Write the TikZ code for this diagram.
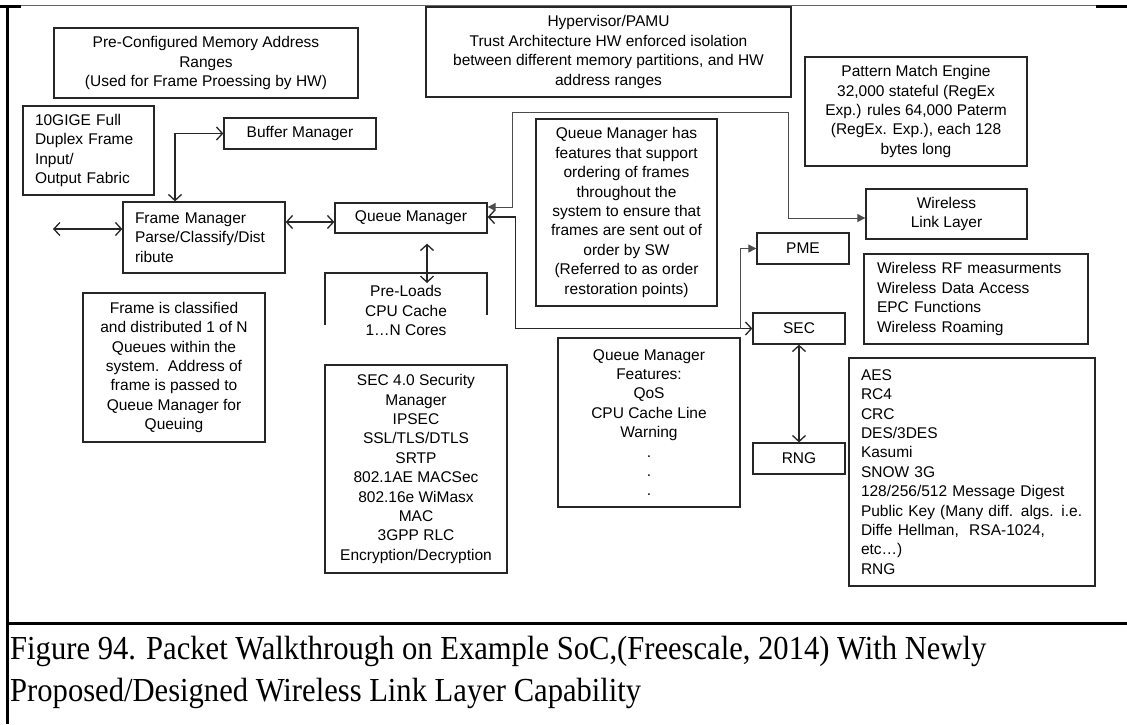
\documentclass[tikz,border=0pt]{standalone}
\usepackage{fontspec}
\setmainfont{Liberation Sans}
\newfontfamily\capfont{Liberation Serif}
\usetikzlibrary{arrows.meta}
\begin{document}
\begin{tikzpicture}[x=1pt,y=-1pt,
  box/.style={draw=black!85, line width=1.3pt, inner sep=0pt, text=black,
    font=\fontsize{15.5}{19.4}\selectfont, align=center},
  lbox/.style={box, align=left},
  link/.style={draw=black!85, line width=1.3pt},
  dbl/.style={link, {Straight Barb[length=6pt,width=13pt]}-{Straight Barb[length=6pt,width=13pt]}},
  solid tips/.style={draw=black!70, line width=0.9pt,
    {Triangle[length=8pt,width=8pt]}-{Triangle[length=8pt,width=8pt]}},
  solid tip/.style={draw=black!70, line width=0.9pt, -{Triangle[length=8pt,width=8pt]}},
]
\useasboundingbox (0,0) rectangle (1127,724);

% page frame
\draw[black!60, line width=0.8pt] (21,5) -- (1096,5);
\draw[black, line width=3pt] (0,6) -- (21,6);
\draw[black, line width=3pt] (1096,6) -- (1127,6);
\draw[black, line width=3pt] (7.5,5) -- (7.5,724);
\draw[black, line width=3pt] (7.5,623) -- (1127,623);

% blocks
\node[box, minimum width=304, minimum height=70] (precfg) at (206,63)
  {Pre-Configured Memory Address\\Ranges\\(Used for Frame Proessing by HW)};
\node[lbox, minimum width=131, minimum height=89, text width=107, inner xsep=12] (gige) at (88.5,150.5)
  {10GIGE Full\\Duplex Frame\\Input/\\Output Fabric};
\node[box, minimum width=152, minimum height=31] (buffer) at (300,133.5) {Buffer Manager};
\node[box, minimum width=365, minimum height=90] (hyper) at (608.5,52)
  {Hypervisor/PAMU\\Trust Architecture HW enforced isolation\\between different memory partitions, and HW\\address ranges};
\node[box, minimum width=222, minimum height=109] (pattern) at (916,111.5)
  {Pattern Match Engine\\32,000 stateful (RegEx\\Exp.) rules 64,000 Paterm\\(RegEx. Exp.), each 128\\bytes long};
\node[lbox, minimum width=162, minimum height=71, text width=138, inner xsep=12] (fm) at (204,237.5)
  {Frame Manager\\Parse/Classify/Dist\\ribute};
\node[box, minimum width=152, minimum height=30] (qm) at (411,218) {Queue Manager};
\node[box, minimum width=181, minimum height=187] (qmhas) at (626.5,212.5)
  {Queue Manager has\\features that support\\ordering of frames\\throughout the\\system to ensure that\\frames are sent out of\\order by SW\\(Referred to as order\\restoration points)};
\node[box, minimum width=161, minimum height=50] (wll) at (946.5,214) {Wireless\\Link Layer};
\node[box, minimum width=92, minimum height=31] (pme) at (803,248.5) {PME};
\node[lbox, minimum width=224, minimum height=90, text width=198, inner xsep=13] (wrf) at (976,299)
  {Wireless RF measurments\\Wireless Data Access\\EPC Functions\\Wireless Roaming};
\node[box, minimum width=92, minimum height=31] (sec) at (799,328.5) {SEC};
\node[box, minimum width=92, minimum height=31] (rng) at (799,458.5) {RNG};
\node[lbox, minimum width=246, minimum height=228, text width=222, inner xsep=12] (algs) at (972,472)
  {AES\\RC4\\CRC\\DES/3DES\\Kasumi\\SNOW 3G\\128/256/512 Message Digest\\Public Key (Many diff. algs. i.e.\\Diffe Hellman,\ \ RSA-1024,\\etc\dots)\\RNG};
\node[box, minimum width=182, minimum height=149] (frameis) at (174,367.5)
  {Frame is classified\\and distributed 1 of N\\Queues within the\\system.\ \ Address of\\frame is passed to\\Queue Manager for\\Queuing};
\node[box, minimum width=182, minimum height=208] (sec40) at (416,469)
  {SEC 4.0 Security\\Manager\\IPSEC\\SSL/TLS/DTLS\\SRTP\\802.1AE MACSec\\802.16e WiMasx\\MAC\\3GPP RLC\\Encryption/Decryption};
\node[box, minimum width=182, minimum height=169] (qmf) at (649,422.5)
  {Queue Manager\\Features:\\QoS\\CPU Cache Line\\Warning\\.\\.\\.};

% pre-loads block, open at the bottom
\coordinate (plnw) at (325,273);
\coordinate (plne) at (487,273);
\draw[link] ([yshift=-52pt]plnw) -- (plnw) -- (plne) -- ([yshift=-42pt]plne);
\node[box, draw=none, minimum width=150] (preloads) at (406,310.5)
  {Pre-Loads\\CPU Cache\\1\dots N Cores};

% connectors
\coordinate (inport) at (53,229);
\draw[dbl] (inport) -- (inport -| fm.west);
\draw[dbl] ([xshift=-29pt]fm.north) |- (buffer.west);
\draw[dbl] ([yshift=-4pt]qm.west -| fm.east) -- ([yshift=-4pt]qm.west);
\draw[dbl] ([xshift=16pt,yshift=-10pt]qm.south) -- ([xshift=16pt,yshift=-10pt]qm.south |- plnw);
\draw[solid tips] ([yshift=11pt]qm.east) -- ++(25,0) |- (788,112) |- ([yshift=-4pt]wll.west);
\draw[dbl] ([yshift=1pt]qm.east) -- ++(28,0) |- (sec.west);
\coordinate (branch) at (740,328.5);
\draw[solid tip] (branch) |- (pme.west);
\draw[dbl] (sec.south) -- (rng.north);

% caption
\node[anchor=west, inner sep=0pt, align=left, text=black, xscale=1.02, yscale=1.12,
  font=\capfont\fontsize{30}{37.5}\selectfont] (caption) at (10,672)
  {Figure 94. Packet Walkthrough on Example SoC,(Freescale, 2014) With Newly\\Proposed/Designed Wireless Link Layer Capability};
\end{tikzpicture}
\end{document}
